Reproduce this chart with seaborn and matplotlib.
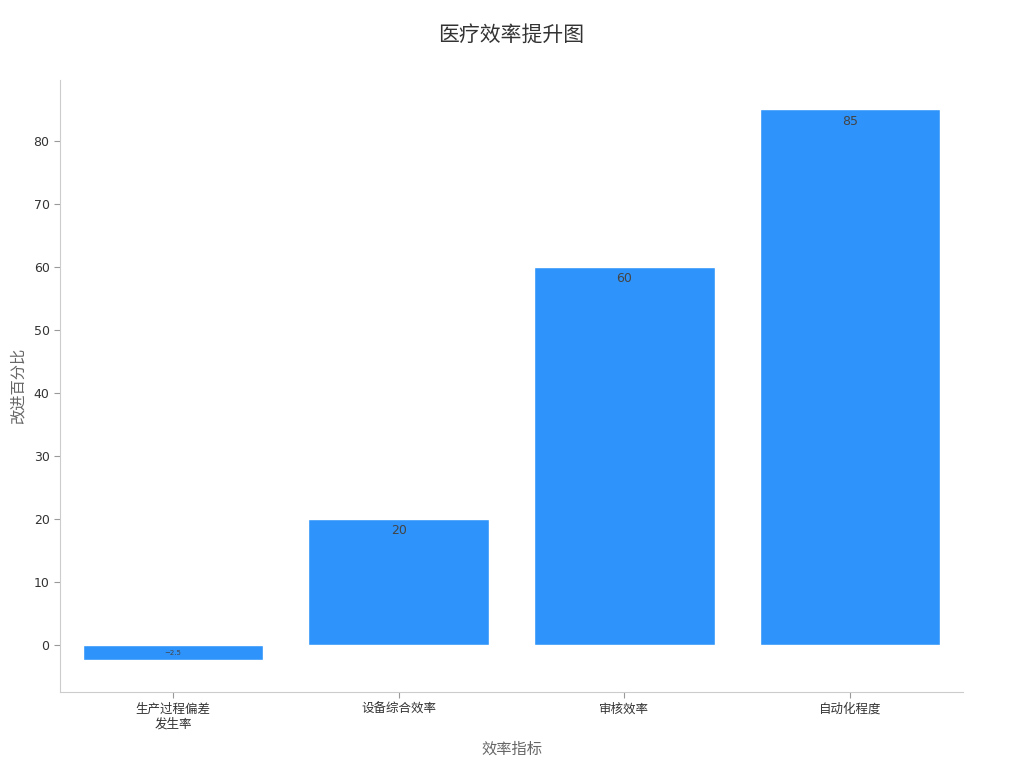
import matplotlib
matplotlib.use("Agg")
import matplotlib.pyplot as plt
import seaborn as sns
import pandas as pd

# --- Data ---
categories = ["生产过程偏差\n发生率", "设备综合效率", "审核效率", "自动化程度"]
values = [-2.5, 20, 60, 85]
label_sizes = [5, 9, 9, 9]

BAR_COLOR = "#2E93FA"
OUT_FILE = "out.png"

sns.set_theme(style="white")
plt.rcParams['font.family'] = ['DejaVu Sans', 'Noto Sans CJK SC']

df = pd.DataFrame({"指标": categories, "值": values})

fig = plt.figure(figsize=(10.24, 7.68), dpi=100)
ax = fig.add_axes([0.0586, 0.099, 0.8818, 0.797])

sns.barplot(data=df, x="指标", y="值", color=BAR_COLOR, saturation=1,
            width=0.8, ax=ax)

# value labels just inside the top of each bar
for i, (v, fs) in enumerate(zip(values, label_sizes)):
    if v >= 0:
        ax.text(i, v - 0.8, f"{v:g}", ha="center", va="top", fontsize=fs, color="#444444")
    else:
        ax.text(i, v / 2, f"{v:g}".replace("-", "−"), ha="center", va="center",
                fontsize=fs, color="#444444")

ax.set_xlim(-0.5, 3.5)
ax.set_ylim(-7.5, 89.7)
ax.set_yticks(range(0, 81, 10))

ax.set_title("医疗效率提升图", fontsize=15, color="#333333", pad=28,
             family=['Noto Sans CJK SC', 'DejaVu Sans'])
ax.set_xlabel("效率指标", fontsize=11, color="#666666", labelpad=8)
ax.set_ylabel("改进百分比", fontsize=11, color="#666666", labelpad=6)

for side in ["top", "right"]:
    ax.spines[side].set_visible(False)
for side in ["left", "bottom"]:
    ax.spines[side].set_color("#cccccc")
    ax.spines[side].set_linewidth(0.8)

ax.tick_params(axis="both", bottom=True, left=True, labelsize=9,
               labelcolor="#333333", color="#999999", length=4, width=0.8)

fig.savefig(OUT_FILE, dpi=100)
